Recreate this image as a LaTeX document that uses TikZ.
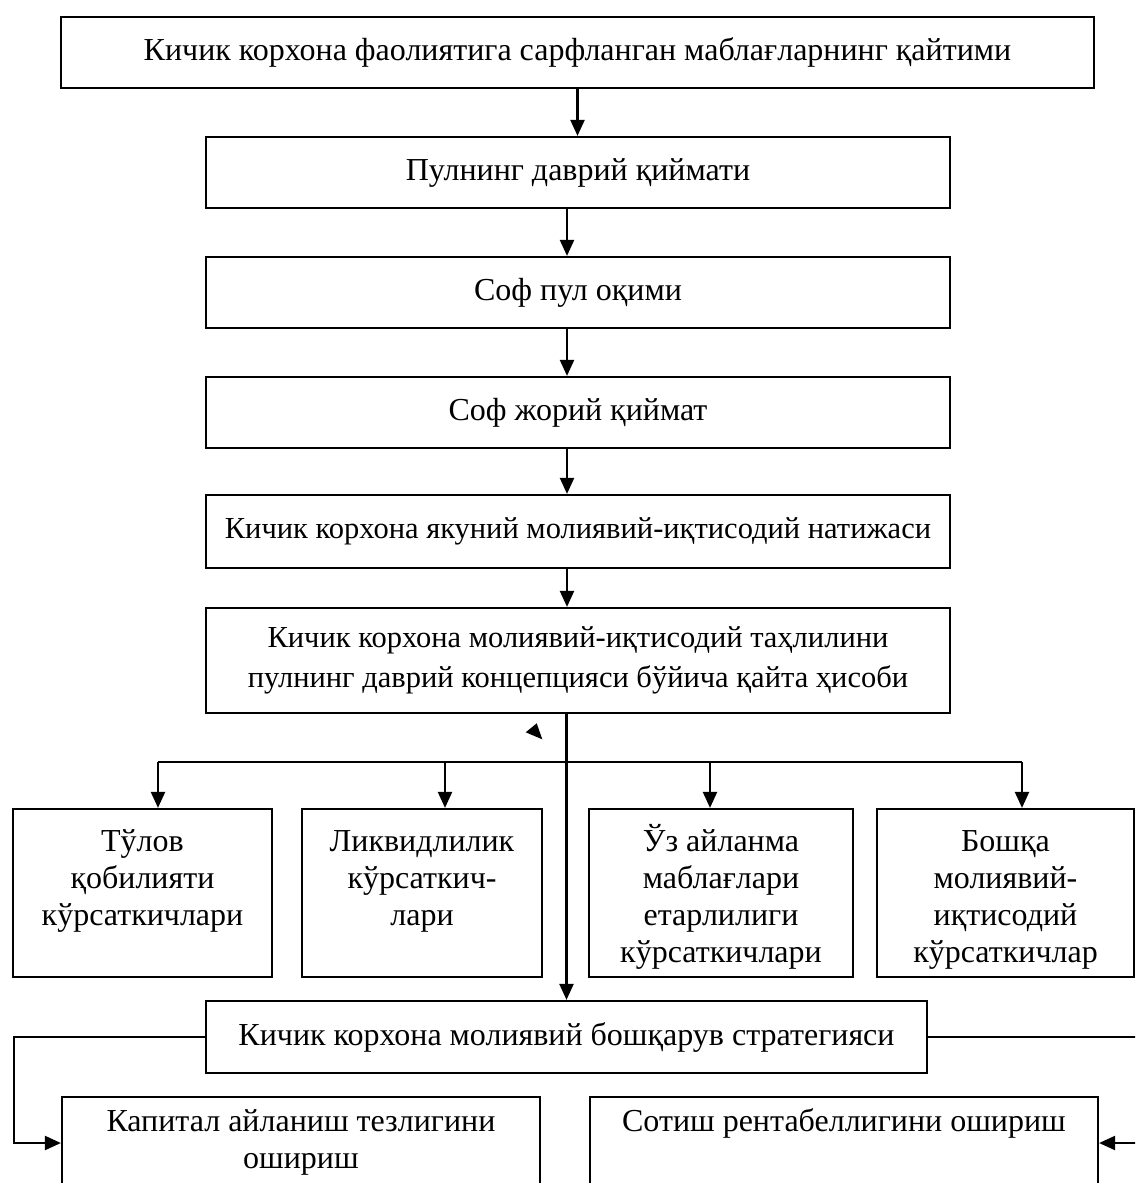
\documentclass[tikz,border=0pt]{standalone}
\usepackage{fontspec}
\setmainfont{Liberation Serif}
\usetikzlibrary{arrows.meta, positioning, calc}

\newcommand{\tallstrut}{\rule{0pt}{40pt}}

\tikzset{
  box/.style={draw, line width=2.2pt, inner sep=0pt, align=center,
              font=\fontsize{32}{37}\selectfont},
  smallbox/.style={box, font=\fontsize{30.5}{40}\selectfont},
  link/.style={line width=2.2pt, -{Triangle[length=16pt, width=14pt]}},
  wire/.style={line width=2.2pt}
}

\begin{document}
\begin{tikzpicture}[x=1pt, y=-1pt]
  \path[use as bounding box, clip] (0,0) rectangle (1135,1183);
  \coordinate (axis) at (567,0);
  % Main chain of boxes
  \node[box, minimum width=1033pt, minimum height=71pt] (qaytim) at (577.5,52.5)
    {Кичик корхона фаолиятига сарфланган маблағларнинг қайтими};
  \node[box, minimum width=744pt, minimum height=71pt] (davriy) at (578,172.5)
    {Пулнинг даврий қиймати};
  \node[box, minimum width=744pt, minimum height=71pt] (sofpul) at (578,292.5)
    {Соф пул оқими};
  \node[box, minimum width=744pt, minimum height=71pt] (sofjoriy) at (578,412.5)
    {Соф жорий қиймат};
  \node[smallbox, minimum width=744pt, minimum height=73pt] (natija) at (578,531.5)
    {Кичик корхона якуний молиявий-иқтисодий натижаси};
  \node[smallbox, minimum width=744pt, minimum height=105pt] (qayta) at (578,660.5)
    {Кичик корхона молиявий-иқтисодий таҳлилини\\пулнинг даврий концепцияси бўйича қайта ҳисоби};
  \draw[link] (qaytim.south) -- (qaytim.south |- davriy.north);
  \draw[link] (davriy.south -| axis) -- (sofpul.north -| axis);
  \draw[link] (sofpul.south -| axis) -- (sofjoriy.north -| axis);
  \draw[link] (sofjoriy.south -| axis) -- (natija.north -| axis);
  \draw[link] (natija.south -| axis) -- (qayta.north -| axis);
  % Loose arrow tip
  \fill (525.7,732.3) -- (536.7,723.3) -- (542.3,739.3) -- cycle;
  % Indicator boxes with their branch arrows
  \foreach \n/\x/\w/\bx/\t in {
      tulov/142.5/259/158/{\tallstrut Тўлов\\қобилияти\\кўрсаткичлари\\\strut},
      likvid/422/240/445/{\tallstrut Ликвидлилик\\кўрсаткич-\\лари\\\strut},
      aylanma/721/264/710/{\tallstrut Ўз айланма\\маблағлари\\етарлилиги\\кўрсаткичлари\strut},
      boshqa/1005.5/257/1022/{\tallstrut Бошқа\\молиявий-\\иқтисодий\\кўрсаткичлар\strut}} {
    \node[box, minimum width=\w pt, minimum height=168pt] (\n) at (\x,893) {\t};
    \coordinate (b\n) at (\bx,762);
    \draw[link] (b\n) -- (b\n |- \n.north);
  }
  \draw[wire] (btulov) -- (bboshqa);
  % Strategy and its two directions
  \node[box, minimum width=721pt, minimum height=72pt] (strat) at (566.5,1037)
    {Кичик корхона молиявий бошқарув стратегияси};
  \draw[link] (strat.north |- qayta.south) -- (strat.north);
  \node[box, minimum width=478pt, minimum height=92pt] (kapital) at (301,1143)
    {\strut Капитал айланиш тезлигини\\ошириш\strut};
  \node[box, minimum width=508pt, minimum height=92pt] (sotish) at (844,1143)
    {\strut Сотиш рентабеллигини ошириш\\\strut};
  \coordinate (lturn) at (14,1037);
  \coordinate (rturn) at (1140,1037);
  \draw[link] (strat.west) -- (lturn) |- (kapital.west);
  \draw[link] (strat.east) -- (rturn) |- (sotish.east);
\end{tikzpicture}
\end{document}
